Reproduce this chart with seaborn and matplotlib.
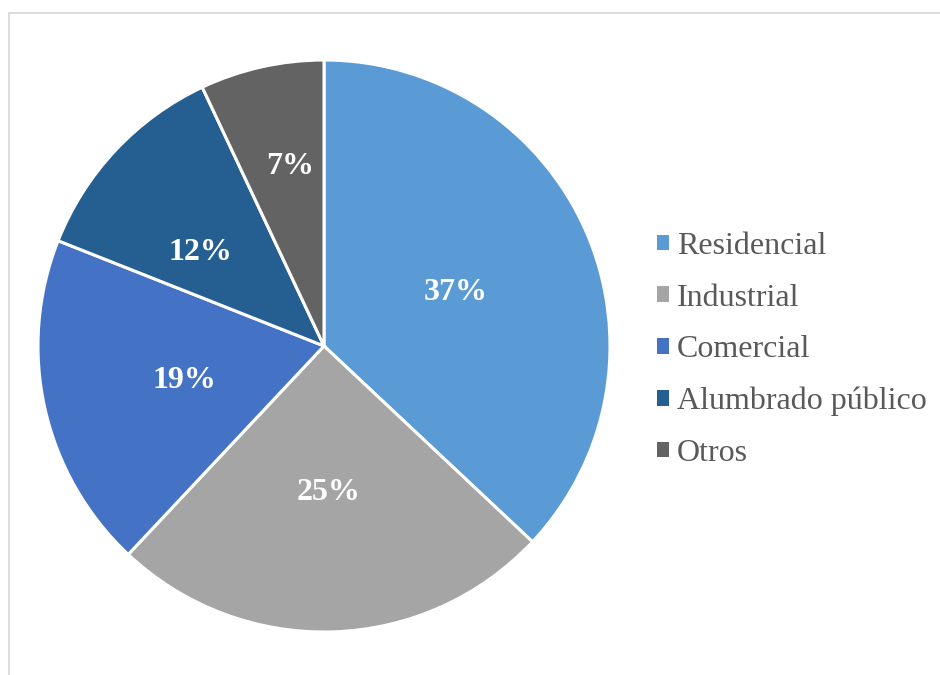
import matplotlib
matplotlib.use("Agg")
import matplotlib.pyplot as plt
import seaborn as sns
import numpy as np
from matplotlib.patches import Patch, Rectangle

categories = ["Residencial", "Industrial", "Comercial", "Alumbrado público", "Otros"]
values = [37, 25, 19, 12, 7]
colors = ["#5B9BD5", "#A5A5A5", "#4472C4", "#255E91", "#636363"]
# label placement (radial fraction and angle tweak, degrees)
label_dist = [0.5, 0.5, 0.5, 0.55, 0.65]
label_dang = [0, 0, 0, 5, -2]

sns.set_theme(style="white")
plt.rcParams["font.family"] = ["Liberation Serif", "DejaVu Serif"]

W, H = 940, 675
fig = plt.figure(figsize=(W / 100, H / 100), dpi=100)

cx, cy, r = 324, 346, 286
ax = fig.add_axes([(cx - r) / W, (H - cy - r) / H, 2 * r / W, 2 * r / H])
wedges, texts, autotexts = ax.pie(
    values, colors=colors, startangle=90, counterclock=False,
    autopct=lambda p: f"{p:.0f}%", pctdistance=0.5,
    wedgeprops=dict(edgecolor="white", linewidth=2.2),
    textprops=dict(color="white", fontsize=23, fontweight="bold"),
)
for w, t, d, da in zip(wedges, autotexts, label_dist, label_dang):
    ang = np.deg2rad((w.theta1 + w.theta2) / 2 + da)
    t.set_position((d * np.cos(ang), d * np.sin(ang) - 3.5 / r))
ax.set_xlim(-1, 1)
ax.set_ylim(-1, 1)
ax.set_aspect("equal")
ax.axis("off")

handles = [Patch(facecolor=c, edgecolor="none") for c in colors]
leg = fig.legend(handles, categories, loc="center left",
                 bbox_to_anchor=(657 / W, 1 - 350 / H), frameon=False,
                 fontsize=23, handlelength=0.37, handleheight=0.37,
                 handletextpad=0.25, labelspacing=0.71, borderpad=0,
                 borderaxespad=0)
for t in leg.get_texts():
    t.set_color("#595959")

fig.patches.append(Rectangle((8.5 / W, -0.1), 1.2, 1 - 12.5 / H + 0.1,
                             transform=fig.transFigure, fill=False,
                             edgecolor="#D9D9D9", linewidth=1.3, clip_on=False))

fig.savefig("out.png", dpi=100, facecolor="white")
